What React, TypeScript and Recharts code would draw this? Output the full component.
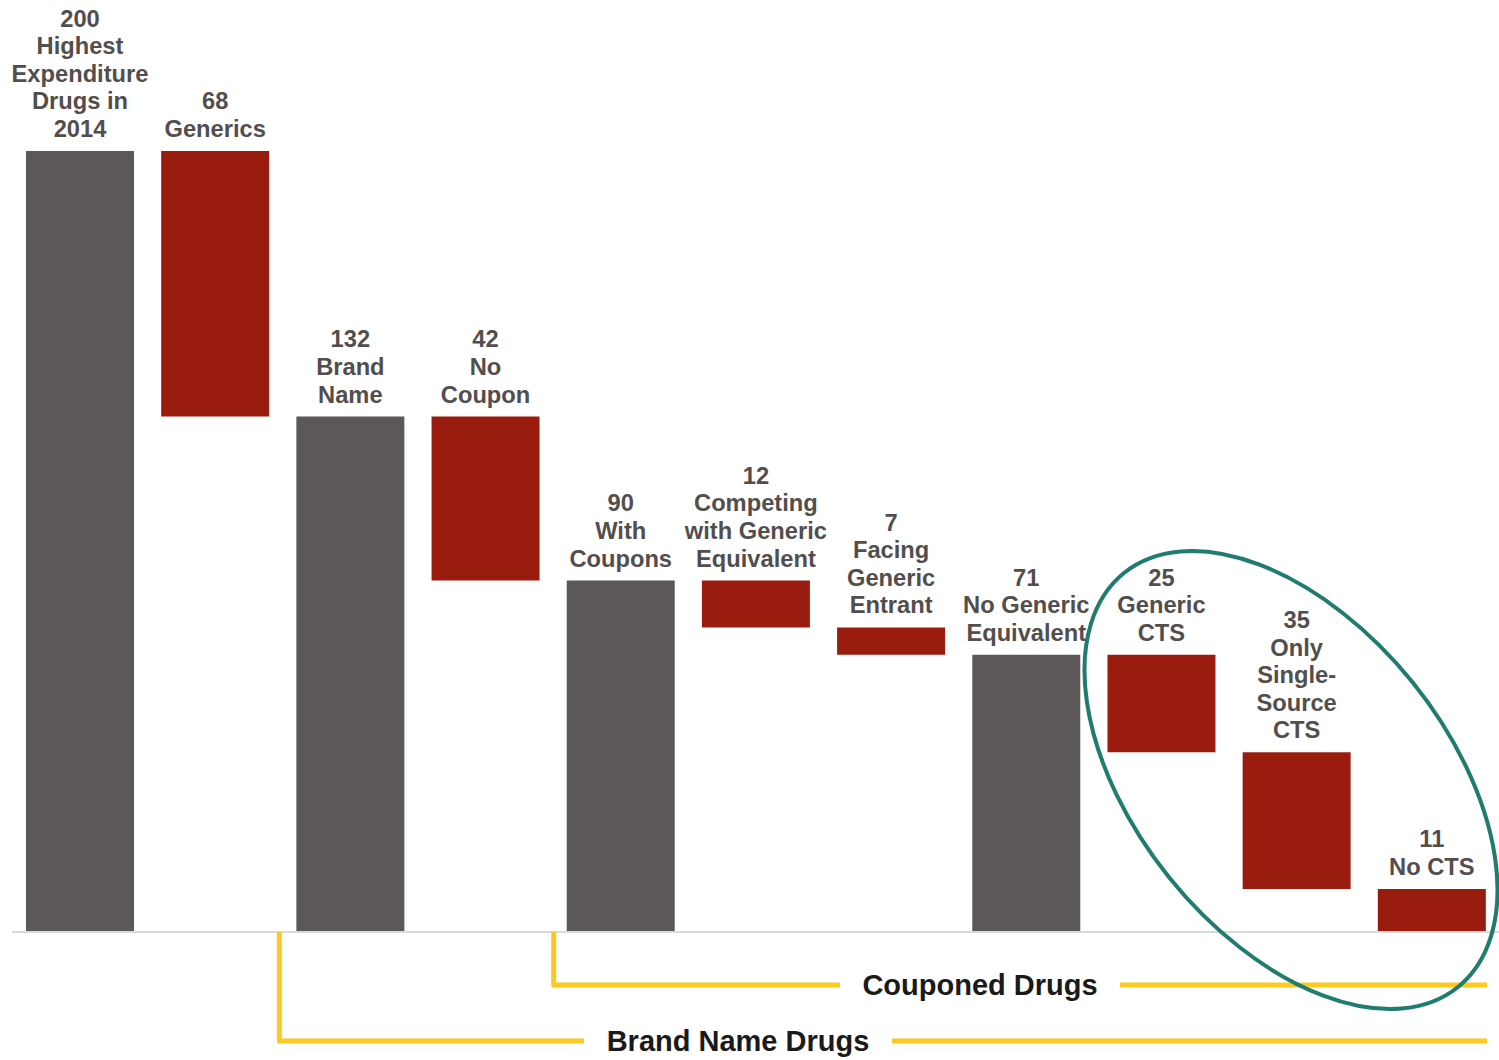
import React from 'react';
import { BarChart, Bar, XAxis, YAxis, Cell, LabelList } from 'recharts';

const categories: string[] = [
  'Highest\nExpenditure\nDrugs in\n2014',
  'Generics',
  'Brand\nName',
  'No\nCoupon',
  'With\nCoupons',
  'Competing\nwith Generic\nEquivalent',
  'Facing\nGeneric\nEntrant',
  'No Generic\nEquivalent',
  'Generic\nCTS',
  'Only\nSingle-\nSource\nCTS',
  'No CTS',
];
const values: number[] = [200, 68, 132, 42, 90, 12, 7, 71, 25, 35, 11];
const kinds: string[] = ['total', 'drop', 'total', 'drop', 'total', 'drop', 'drop', 'total', 'drop', 'drop', 'drop'];
const bracketLabels: string[] = ['Brand Name Drugs', 'Couponed Drugs'];
const bracketStartIndex: number[] = [2, 4];

const GRAY = '#5c5857';
const RED = '#991c0f';
const LABEL = '#524e4d';
const YELLOW = '#fcc920';
const TEAL = '#1f7c6f';

const W = 1499;
const H = 1060;
const M = { top: 151, right: 0, bottom: 127, left: 12 };

let running = 0;
const data = categories.map((name, i) => {
  const v = values[i];
  let base = 0;
  if (kinds[i] === 'total') {
    base = 0;
    running = v;
  } else {
    base = running - v;
    running = base;
  }
  return { name, base, value: v, text: `${v}\n${name}` };
});

const StackLabel = (props: any) => {
  const vb = props.viewBox || props;
  const x = Number(vb.x ?? props.x);
  const y = Number(vb.y ?? props.y);
  const w = Number(vb.width ?? props.width);
  const h = Number(vb.height ?? props.height);
  const top = h < 0 ? y + h : y;
  const lines = String(props.value).split('\n');
  const lh = 27.6;
  const lastBase = top - 14;
  const firstBase = lastBase - (lines.length - 1) * lh;
  return (
    <text
      x={x + w / 2}
      y={firstBase}
      textAnchor="middle"
      fill={LABEL}
      fontFamily="Liberation Sans, Arial, sans-serif"
      fontWeight="bold"
      fontSize={23.7}
    >
      {lines.map((l, i) => (
        <tspan key={i} x={x + w / 2} dy={i === 0 ? 0 : lh}>
          {l}
        </tspan>
      ))}
    </text>
  );
};

const Overlay = () => {
  const plotW = W - M.left - M.right;
  const band = plotW / categories.length;
  const baseY = H - M.bottom - 1;
  const rightEnd = M.left + plotW - 12;
  const levels = [1041, 985];
  const textCenters = [738, 980];
  const textHalf = [132, 118];
  const nudge = [-3, 1];
  const gap = 22;
  return (
    <svg width={W} height={H} style={{ position: 'absolute', left: 0, top: 0, pointerEvents: 'none' }}>
      {bracketLabels.map((lab, k) => {
        const bx = M.left + band * bracketStartIndex[k] + nudge[k];
        const ly = levels[k];
        const tc = textCenters[k];
        const th = textHalf[k];
        return (
          <g key={k}>
            <path
              d={`M${bx},${baseY} L${bx},${ly} L${tc - th - gap},${ly}`}
              fill="none"
              stroke={YELLOW}
              strokeWidth={5}
              strokeLinejoin="round"
            />
            <line x1={tc + th + gap} y1={ly} x2={rightEnd} y2={ly} stroke={YELLOW} strokeWidth={5} />
            <text
              x={tc}
              y={ly + 10}
              textAnchor="middle"
              fill="#1a1a1a"
              fontFamily="Liberation Sans, Arial, sans-serif"
              fontWeight="bold"
              fontSize={29}
            >
              {lab}
            </text>
          </g>
        );
      })}
      <ellipse
        cx={1291}
        cy={780}
        rx={266}
        ry={156}
        transform="rotate(51.1 1291 780)"
        fill="none"
        stroke={TEAL}
        strokeWidth={4}
      />
    </svg>
  );
};

export default function App() {
  return (
    <div style={{ position: 'absolute', left: 0, top: 0, width: W, height: H, background: '#fff' }}>
      <BarChart width={W} height={H} data={data} margin={M} barCategoryGap={0} barSize={108}>
        <XAxis
          dataKey="name"
          tick={false}
          tickLine={false}
          axisLine={{ stroke: '#d9d9d9', strokeWidth: 2 }}
          height={1}
        />
        <YAxis hide domain={[0, 200]} />
        <Bar dataKey="base" stackId="w" fill="transparent" isAnimationActive={false} />
        <Bar dataKey="value" stackId="w" isAnimationActive={false}>
          {data.map((d, i) => (
            <Cell key={i} fill={kinds[i] === 'total' ? GRAY : RED} />
          ))}
          <LabelList dataKey="text" content={StackLabel} />
        </Bar>
      </BarChart>
      <Overlay />
    </div>
  );
}
